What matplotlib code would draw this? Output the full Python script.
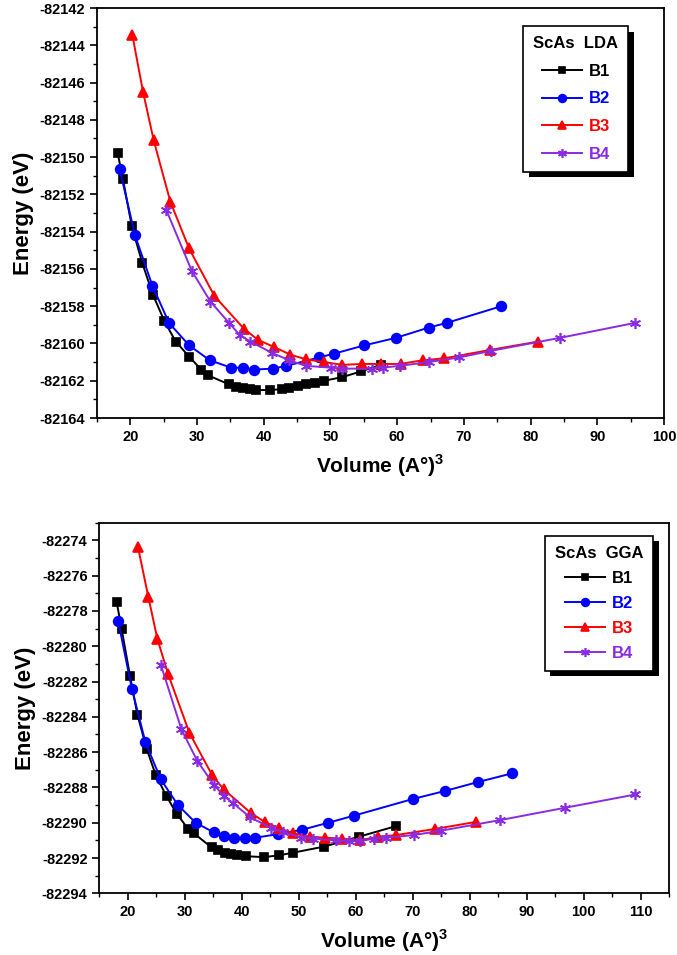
import matplotlib
matplotlib.use('Agg')
import matplotlib.pyplot as plt
import matplotlib.patheffects as pe
from matplotlib.ticker import MultipleLocator, FormatStrFormatter

plt.rcParams['font.family'] = ['Liberation Sans', 'DejaVu Sans']
plt.rcParams['font.weight'] = 'bold'
plt.rcParams['axes.unicode_minus'] = False
plt.rcParams['mathtext.fontset'] = 'custom'
plt.rcParams['mathtext.rm'] = 'Liberation Sans'

# ---- ScAs LDA ----
lda_b1_v = [18.1, 18.9, 20.2, 21.8, 23.4, 25.1, 26.8, 28.8, 30.6, 31.6, 34.8, 35.9, 36.9, 37.9,
            38.9, 40.9, 42.8, 43.8, 45.2, 46.3, 47.7, 49.1, 51.8, 54.6, 57.5]
lda_b1_e = [-82149.8, -82151.2, -82153.7, -82155.7, -82157.4, -82158.8, -82159.9, -82160.7,
            -82161.4, -82161.7, -82162.2, -82162.35, -82162.4, -82162.45, -82162.5, -82162.5,
            -82162.45, -82162.4, -82162.3, -82162.2, -82162.1, -82162.0, -82161.8, -82161.5, -82161.15]
lda_b2_v = [18.4, 20.7, 23.3, 25.8, 28.8, 31.9, 35.1, 36.9, 38.6, 41.4, 43.4, 48.3, 50.5, 55.1,
            59.8, 64.7, 67.4, 75.6]
lda_b2_e = [-82150.65, -82154.2, -82156.9, -82158.9, -82160.1, -82160.9, -82161.3, -82161.3,
            -82161.4, -82161.35, -82161.2, -82160.75, -82160.55, -82160.1, -82159.7, -82159.15,
            -82158.9, -82158.0]
lda_b3_v = [20.3, 21.9, 23.5, 26.0, 28.8, 32.6, 37.0, 39.1, 41.6, 44.0, 46.3, 49.1, 51.8, 54.7,
            57.5, 60.5, 63.8, 67.0, 73.9, 81.1]
lda_b3_e = [-82143.45, -82146.5, -82149.1, -82152.4, -82154.9, -82157.45, -82159.2, -82159.8,
            -82160.2, -82160.6, -82160.85, -82161.0, -82161.15, -82161.1, -82161.1, -82161.1,
            -82160.9, -82160.8, -82160.35, -82159.9]
lda_b4_v = [25.4, 29.2, 32.0, 34.8, 36.4, 38.0, 41.2, 43.8, 46.3, 50.1, 51.8, 56.2, 57.8, 60.4,
            64.7, 69.3, 74.0, 84.4, 95.6]
lda_b4_e = [-82152.85, -82156.1, -82157.75, -82158.9, -82159.55, -82159.9, -82160.5, -82160.9,
            -82161.2, -82161.3, -82161.35, -82161.35, -82161.3, -82161.2, -82161.0, -82160.75,
            -82160.4, -82159.7, -82158.9]

# ---- ScAs GGA ----
gga_b1_v = [18.05, 18.9, 20.4, 21.7, 23.3, 24.9, 26.8, 28.6, 30.6, 31.6, 34.7, 35.8, 37.0, 38.2,
            39.2, 40.8, 43.9, 46.5, 49.0, 54.5, 60.5, 67.0]
gga_b1_e = [-82277.5, -82279.0, -82281.7, -82283.9, -82285.8, -82287.3, -82288.5, -82289.5,
            -82290.35, -82290.6, -82291.4, -82291.55, -82291.7, -82291.8, -82291.85, -82291.9,
            -82291.95, -82291.85, -82291.7, -82291.35, -82290.8, -82290.2]
gga_b2_v = [18.3, 20.7, 23.1, 25.8, 28.8, 31.9, 35.1, 36.9, 38.6, 40.5, 42.4, 46.3, 50.6, 55.2,
            59.7, 70.1, 75.7, 81.4, 87.5]
gga_b2_e = [-82278.55, -82282.4, -82285.45, -82287.55, -82289.0, -82290.0, -82290.55, -82290.75,
            -82290.85, -82290.85, -82290.85, -82290.65, -82290.4, -82290.0, -82289.6, -82288.65,
            -82288.2, -82287.7, -82287.2]
gga_b3_v = [21.8, 23.6, 25.2, 27.1, 30.8, 34.8, 36.8, 41.6, 44.0, 46.5, 49.0, 51.9, 54.6, 57.6,
            60.7, 63.9, 67.1, 74.0, 81.2]
gga_b3_e = [-82274.4, -82277.2, -82279.6, -82281.6, -82284.9, -82287.3, -82288.1, -82289.45,
            -82289.95, -82290.3, -82290.6, -82290.8, -82290.85, -82290.9, -82291.0, -82290.8,
            -82290.7, -82290.35, -82289.95]
gga_b4_v = [25.8, 29.4, 32.2, 35.1, 36.9, 38.5, 41.5, 45.2, 47.2, 50.4, 52.5, 56.5, 58.8, 60.7,
            63.2, 65.3, 70.2, 75.0, 85.4, 96.8, 109.1]
gga_b4_e = [-82281.05, -82284.7, -82286.5, -82287.85, -82288.5, -82288.9, -82289.7, -82290.3,
            -82290.5, -82290.85, -82290.9, -82291.0, -82291.05, -82291.05, -82290.9, -82290.85,
            -82290.7, -82290.45, -82289.85, -82289.15, -82288.4]

labels = ['B1', 'B2', 'B3', 'B4']
colors = ['black', '#0000FF', '#FF0000', '#8A2BE2']
markers = ['s', 'o', '^', (6, 2, 0)]
msizes = [6, 7, 7.5, 8]

fig = plt.figure(figsize=(6.77, 9.55), dpi=100)


def panel(rect, series, title, xlim, ylim, yticks_top, xmax_tick, leg_anchor, lspace):
    ax = fig.add_axes(rect)
    for (v, e), lab, c, m, ms in zip(series, labels, colors, markers, msizes):
        ax.plot(v, e, color=c, lw=1.4, marker=m, ms=ms, mec=c, mfc=c, mew=1.2, label=lab)
    ax.set_xlim(*xlim)
    ax.set_ylim(*ylim)
    ax.xaxis.set_minor_locator(MultipleLocator(5))
    ax.set_xticks(range(20, xmax_tick + 1, 10))
    ax.set_yticks(range(ylim[0], yticks_top + 1, 2))
    ax.yaxis.set_minor_locator(MultipleLocator(1))
    ax.yaxis.set_major_formatter(FormatStrFormatter('%d'))
    ax.tick_params(which='both', direction='out', top=False, right=False)
    ax.tick_params(which='major', length=5, width=1.2, labelsize=10.5)
    ax.tick_params(which='minor', length=3, width=1.0)
    for s in ax.spines.values():
        s.set_linewidth(1.3)
    for lbl in ax.get_xticklabels() + ax.get_yticklabels():
        lbl.set_fontweight('bold')
    ax.set_xlabel(r'Volume (A°)$^3$', fontsize=15, fontweight='bold', labelpad=6)
    ax.set_ylabel('Energy (eV)', fontsize=16, fontweight='bold', labelpad=4)
    leg = ax.legend(loc='upper right', bbox_to_anchor=leg_anchor, title=title,
                    fancybox=False, edgecolor='black', framealpha=1,
                    prop={'weight': 'bold', 'size': 12},
                    title_fontproperties={'weight': 'bold', 'size': 12},
                    handlelength=2.4, handletextpad=0.4, labelspacing=lspace,
                    borderpad=0.6, borderaxespad=0, markerscale=0.8)
    leg.get_frame().set_linewidth(1.2)
    leg.get_frame().set_path_effects([pe.SimplePatchShadow(offset=(4, -4), shadow_rgbFace='black', alpha=1),
                                      pe.Normal()])
    for t, c in zip(leg.get_texts(), colors):
        t.set_color(c)
    return ax


panel([0.1433, 0.5623, 0.8375, 0.4293],
      [(lda_b1_v, lda_b1_e), (lda_b2_v, lda_b2_e), (lda_b3_v, lda_b3_e), (lda_b4_v, lda_b4_e)],
      'ScAs  LDA', (15, 100), (-82164, -82142), -82142, 100, (0.937, 0.956), 0.76)

panel([0.1467, 0.0646, 0.8415, 0.3881],
      [(gga_b1_v, gga_b1_e), (gga_b2_v, gga_b2_e), (gga_b3_v, gga_b3_e), (gga_b4_v, gga_b4_e)],
      'ScAs  GGA', (15, 115), (-82294, -82273), -82274, 110, (0.9725, 0.965), 0.6)

fig.savefig('out.png', dpi=100)
